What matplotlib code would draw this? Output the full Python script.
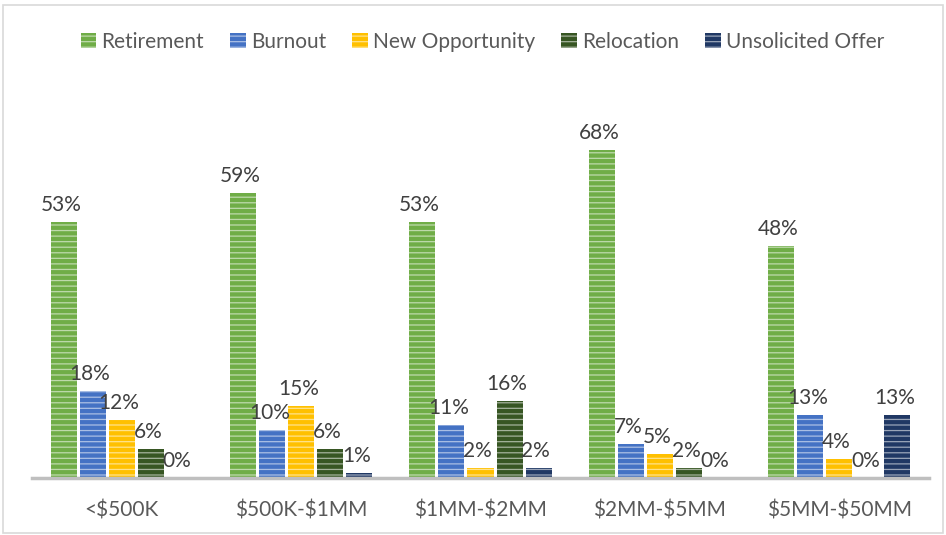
import matplotlib
matplotlib.use("Agg")
import matplotlib.pyplot as plt
from matplotlib.patches import Rectangle
import numpy as np

categories = ["<$500K", "$500K-$1MM", "$1MM-$2MM", "$2MM-$5MM", "$5MM-$50MM"]
series = ["Retirement", "Burnout", "New Opportunity", "Relocation", "Unsolicited Offer"]
retirement = [53, 59, 53, 68, 48]
burnout = [18, 10, 11, 7, 13]
new_opportunity = [12, 15, 2, 5, 4]
relocation = [6, 6, 16, 2, 0]
unsolicited = [0, 1, 2, 0, 13]
values = [retirement, burnout, new_opportunity, relocation, unsolicited]
colors = ["#70AD47", "#4472C4", "#FFC000", "#375623", "#203864"]

plt.rcParams["font.family"] = ["Lato", "DejaVu Sans"]
plt.rcParams["text.parse_math"] = False
plt.rcParams["hatch.linewidth"] = 0.9
text_color = "#404040"
fs = 15

fig = plt.figure(figsize=(9.46, 5.35), dpi=100)
ax = fig.add_axes([32 / 946, 57 / 535, 897 / 946, 386 / 535])

x = np.arange(len(categories))
pitch = 0.1617
width = 0.145
for i, (name, vals, col) in enumerate(zip(series, values, colors)):
    pos = x + (i - 2) * pitch
    bars = ax.bar(pos, vals, width=width, color=col, edgecolor=(1, 1, 1, 0.55),
                  linewidth=0, hatch="---", label=name)
    for b, v in zip(bars, vals):
        ax.annotate(f"{v}%", (b.get_x() + b.get_width() / 2, v),
                    xytext=(-2, 5), textcoords="offset points",
                    ha="center", va="bottom", fontsize=fs, color=text_color)

ax.set_xlim(-0.5, 4.5)
ax.set_ylim(0, 80)
ax.set_yticks([])
ax.set_xticks(x)
ax.set_xticklabels(categories, fontsize=fs, color="#595959")
ax.tick_params(axis="x", length=0, pad=16)
for s in ["top", "right", "left"]:
    ax.spines[s].set_visible(False)
ax.spines["bottom"].set_color("#BFBFBF")
ax.spines["bottom"].set_linewidth(2.5)

leg = fig.legend(loc="center", bbox_to_anchor=(0.51, 1 - 42 / 535), ncol=5,
                 frameon=False, fontsize=fs, handlelength=0.75, handleheight=0.75,
                 handletextpad=0.25, columnspacing=1.25)
for t in leg.get_texts():
    t.set_color("#595959")

fig.patches.append(Rectangle((3 / 946, 2 / 535), 940 / 946, 528 / 535,
                             transform=fig.transFigure, fill=False,
                             edgecolor="#D9D9D9", linewidth=1.2))

fig.savefig("out.png", dpi=100)
